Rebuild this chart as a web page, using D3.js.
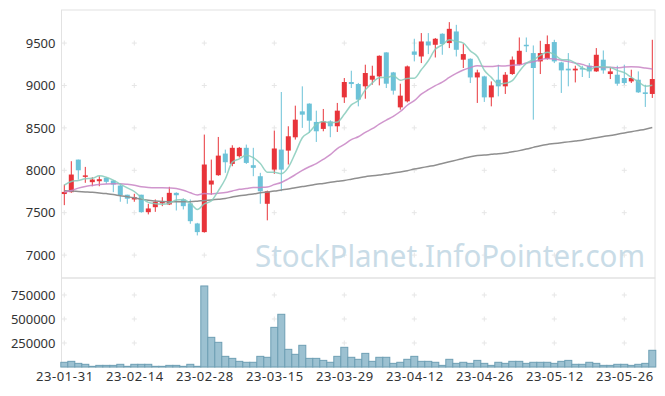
<!DOCTYPE html>
<html>
<head>
<meta charset="utf-8">
<script src="https://cdn.jsdelivr.net/npm/d3@7"></script>
<style>
  body { margin: 0; background: #fff; }
  svg { display: block; font-family: "Noto Sans", sans-serif; }
</style>
</head>
<body>
<svg id="chart" width="665" height="396"></svg>
<script>
// ---- data ----
const dates = [
  "23-01-31","23-02-01","23-02-02","23-02-03","23-02-06","23-02-07","23-02-08","23-02-09","23-02-10","23-02-13",
  "23-02-14","23-02-15","23-02-16","23-02-17","23-02-20","23-02-21","23-02-22","23-02-23","23-02-24","23-02-27",
  "23-02-28","23-03-02","23-03-03","23-03-06","23-03-07","23-03-08","23-03-09","23-03-10","23-03-13","23-03-14",
  "23-03-15","23-03-16","23-03-17","23-03-20","23-03-21","23-03-22","23-03-23","23-03-24","23-03-27","23-03-28",
  "23-03-29","23-03-30","23-03-31","23-04-03","23-04-04","23-04-05","23-04-06","23-04-07","23-04-10","23-04-11",
  "23-04-12","23-04-13","23-04-14","23-04-17","23-04-18","23-04-19","23-04-20","23-04-21","23-04-24","23-04-25",
  "23-04-26","23-04-27","23-04-28","23-05-02","23-05-03","23-05-04","23-05-08","23-05-09","23-05-10","23-05-11",
  "23-05-12","23-05-15","23-05-16","23-05-17","23-05-18","23-05-19","23-05-22","23-05-23","23-05-24","23-05-25",
  "23-05-26","23-05-30","23-05-31","23-06-01","23-06-02"
];

const open = [
  7720,7742,8126,7930,7860,7871,7911,7879,7820,7712, 7656,7712,7506,7565,7610,7597,7734,7656,7610,7373,
  7271,7832,7942,8197,8075,8166,8265,8060,7930,7605, 8008,8244,8232,8389,8695,8786,8570,8488,8577,8519,
  8860,9041,9017,8990,9068,9107,9390,9154,8742,8813, 9401,9342,9519,9480,9610,9500,9637,9304,9315,9095,
  9107,8860,9068,8990,9135,9245,9480,9382,9284,9312, 9512,9272,9198,9178,9206,9233,9166,9304,9135,9127,
  9088,9048,9068,8919,8900
];
const high = [
  7832,8107,8126,8040,7918,7930,7915,7885,7830,7712, 7723,7712,7605,7656,7683,7805,7740,7670,7656,7380,
  8421,8126,8393,8244,8295,8275,8303,8265,7970,7760, 8468,8923,8519,8762,8990,8790,8703,8723,8590,8794,
  9088,9174,9030,9245,9233,9355,9392,9160,9021,9235, 9551,9618,9618,9560,9615,9747,9715,9488,9320,9186,
  9115,9048,9245,9158,9342,9566,9566,9472,9527,9590, 9539,9280,9382,9233,9233,9264,9441,9413,9217,9233,
  9245,9186,9166,9009,9539
];
const low = [
  7589,7735,7890,7852,7812,7812,7840,7742,7629,7605, 7629,7500,7480,7510,7577,7590,7526,7538,7369,7232,
  7265,7712,7935,7970,8048,8150,8075,7930,7605,7410, 7958,7753,8068,8362,8500,8441,8334,8460,8390,8452,
  8794,8970,8754,8844,9009,9001,8970,8892,8715,8800, 9284,9264,9370,9330,9362,9441,9342,9206,9029,8794,
  8806,8754,8872,8900,9125,9240,9394,8597,9135,9305, 9264,8912,8990,9036,9100,9088,9160,9139,9076,8997,
  9009,9029,8912,8747,8853
];
const close = [
  7745,7950,8000,7940,7891,7895,7864,7832,7706,7665, 7683,7506,7550,7629,7636,7734,7706,7577,7400,7271,
  8068,7879,8173,8095,8265,8265,8087,8029,7753,7753, 8257,8008,8401,8597,8656,8585,8460,8577,8519,8703,
  9041,9017,8833,9147,9115,9350,9021,8939,8880,9225, 9362,9519,9472,9551,9488,9668,9421,9370,9095,9154,
  8860,9001,8990,9127,9304,9409,9470,9206,9382,9488, 9284,9178,9178,9198,9194,9166,9362,9178,9166,9021,
  9029,9088,8919,8900,9076
];
const volume = [
  49000,59000,38000,28000,7000,17000,17000,17000,28000,7000, 28000,28000,28000,7000,7000,17000,17000,7000,28000,7000,
  844000,309000,257000,111000,90000,59000,49000,49000,111000,101000, 413000,549000,184000,132000,226000,90000,90000,69000,49000,111000,
  205000,101000,80000,142000,59000,101000,101000,38000,49000,80000, 111000,59000,59000,49000,17000,80000,38000,49000,38000,69000,
  38000,17000,49000,38000,59000,59000,38000,49000,49000,49000, 38000,59000,69000,28000,28000,49000,38000,17000,17000,28000,
  28000,17000,28000,38000,174000
];

// moving averages whose window starts before the first visible day
const ma5Head = [7825,7868,7880,7900];
const ma20Head = [7740,7762,7790,7810,7822,7832,7838,7840,7840,7834,7824,7806,7798,7795,7795,7792,7785,7765,7735];
const maLong = [
  7758,7755,7750,7745,7740,7733,7725,7715,7700,7688, 7675,7660,7648,7638,7632,7630,7629,7629,7630,7636,
  7644,7650,7658,7668,7685,7700,7710,7720,7735,7745, 7755,7768,7780,7795,7808,7820,7835,7845,7858,7870,
  7880,7895,7910,7925,7935,7945,7955,7968,7980,7995, 8015,8030,8045,8060,8080,8100,8120,8140,8160,8175,
  8180,8188,8195,8205,8218,8232,8250,8270,8290,8305, 8315,8325,8335,8345,8355,8370,8385,8398,8410,8425,
  8440,8455,8470,8485,8505
];

const priceTicks = [7000, 7500, 8000, 8500, 9000, 9500];
const volumeTicks = [250000, 500000, 750000];
const dateTicks = ["23-01-31","23-02-14","23-02-28","23-03-15","23-03-29","23-04-12","23-04-26","23-05-12","23-05-26"];

const ma5 = close.map((c, i) => i < 4 ? ma5Head[i] : d3.mean(close.slice(i - 4, i + 1)));
const ma20 = close.map((c, i) => i < 19 ? ma20Head[i] : d3.mean(close.slice(i - 19, i + 1)));

// ---- layout ----
const svg = d3.select("#chart");
const plotLeft = 61.5, plotRight = 655, plotTop = 10, plotMid = 278, plotBottom = 367;

const x = d3.scalePoint().domain(dates).range([64.3, 652.3]);
const y = d3.scaleLinear().domain([6730, 9890]).range([plotMid, plotTop]);
const yv = d3.scaleLinear().domain([0, 927000]).range([plotBottom, plotMid]);
const step = x.step();

// frame
const frame = svg.append("g").attr("fill", "none").attr("stroke", "#e2e2e2");
frame.append("rect").attr("x", plotLeft).attr("y", plotTop).attr("width", plotRight - plotLeft).attr("height", plotMid - plotTop);
frame.append("rect").attr("x", plotLeft).attr("y", plotMid).attr("width", plotRight - plotLeft).attr("height", plotBottom - plotMid);

// small cross marks at grid intersections
const crosses = svg.append("g").attr("stroke", "#e6e6e6").attr("stroke-width", 1);
function cross(cx, cy) {
  crosses.append("line").attr("x1", cx - 2.5).attr("x2", cx + 2.5).attr("y1", cy).attr("y2", cy);
  crosses.append("line").attr("x1", cx).attr("x2", cx).attr("y1", cy - 2.5).attr("y2", cy + 2.5);
}
dateTicks.forEach(d => {
  priceTicks.forEach(v => cross(x(d), y(v)));
  volumeTicks.forEach(v => cross(x(d), yv(v)));
});

// watermark
svg.append("text")
  .attr("x", 255).attr("y", 267)
  .attr("textLength", 390).attr("lengthAdjust", "spacingAndGlyphs")
  .attr("font-size", 31)
  .attr("fill", "#c9dce7")
  .text("StockPlanet.InfoPointer.com");

// candles
const upColor = "#e8343a", downColor = "#6cc2d8";
const candles = svg.append("g").selectAll("g")
  .data(dates)
  .join("g")
  .attr("fill", (d, i) => close[i] >= open[i] ? upColor : downColor)
  .attr("stroke", (d, i) => close[i] >= open[i] ? upColor : downColor);

candles.append("line")
  .attr("x1", d => x(d)).attr("x2", d => x(d))
  .attr("y1", (d, i) => y(high[i])).attr("y2", (d, i) => y(low[i]))
  .attr("stroke-width", 1);

candles.append("rect")
  .attr("x", d => x(d) - 2.5)
  .attr("width", 5)
  .attr("y", (d, i) => y(Math.max(open[i], close[i])))
  .attr("height", (d, i) => Math.max(1.5, Math.abs(y(open[i]) - y(close[i]))))
  .attr("stroke", "none");

// moving average lines
const line = d3.line()
  .x((v, i) => x(dates[i]))
  .y(v => y(v))
  .curve(d3.curveMonotoneX);

svg.append("path").datum(maLong)
  .attr("fill", "none").attr("stroke", "#8f8f8f").attr("stroke-width", 1.5).attr("d", line);
svg.append("path").datum(ma20)
  .attr("fill", "none").attr("stroke", "#c884c4").attr("stroke-width", 1.5).attr("stroke-opacity", 0.85).attr("d", line);
svg.append("path").datum(ma5)
  .attr("fill", "none").attr("stroke", "#86cbbb").attr("stroke-width", 1.5).attr("stroke-opacity", 0.85).attr("d", line);

// volume bars
svg.append("g").selectAll("rect")
  .data(dates)
  .join("rect")
  .attr("x", d => x(d) - step / 2)
  .attr("width", step)
  .attr("y", (d, i) => yv(volume[i]))
  .attr("height", (d, i) => plotBottom - yv(volume[i]))
  .attr("fill", "#9cc1d1")
  .attr("stroke", "#6e9fb4")
  .attr("stroke-width", 1);

// axes
function styleAxis(g) {
  g.select(".domain").remove();
  g.selectAll("text").attr("fill", "#333").attr("font-size", 13).attr("font-family", "Noto Sans, sans-serif");
}
svg.append("g").attr("transform", `translate(${plotLeft},0)`)
  .call(d3.axisLeft(y).tickValues(priceTicks).tickSize(0).tickPadding(6).tickFormat(d3.format("d")))
  .call(styleAxis);
svg.append("g").attr("transform", `translate(${plotLeft},0)`)
  .call(d3.axisLeft(yv).tickValues(volumeTicks).tickSize(0).tickPadding(6).tickFormat(d3.format("d")))
  .call(styleAxis);
svg.append("g").attr("transform", `translate(0,${plotBottom})`)
  .call(d3.axisBottom(x).tickValues(dateTicks).tickSize(0).tickPadding(5))
  .call(styleAxis)
  .selectAll("text").attr("letter-spacing", "0.6px");
</script>
</body>
</html>
